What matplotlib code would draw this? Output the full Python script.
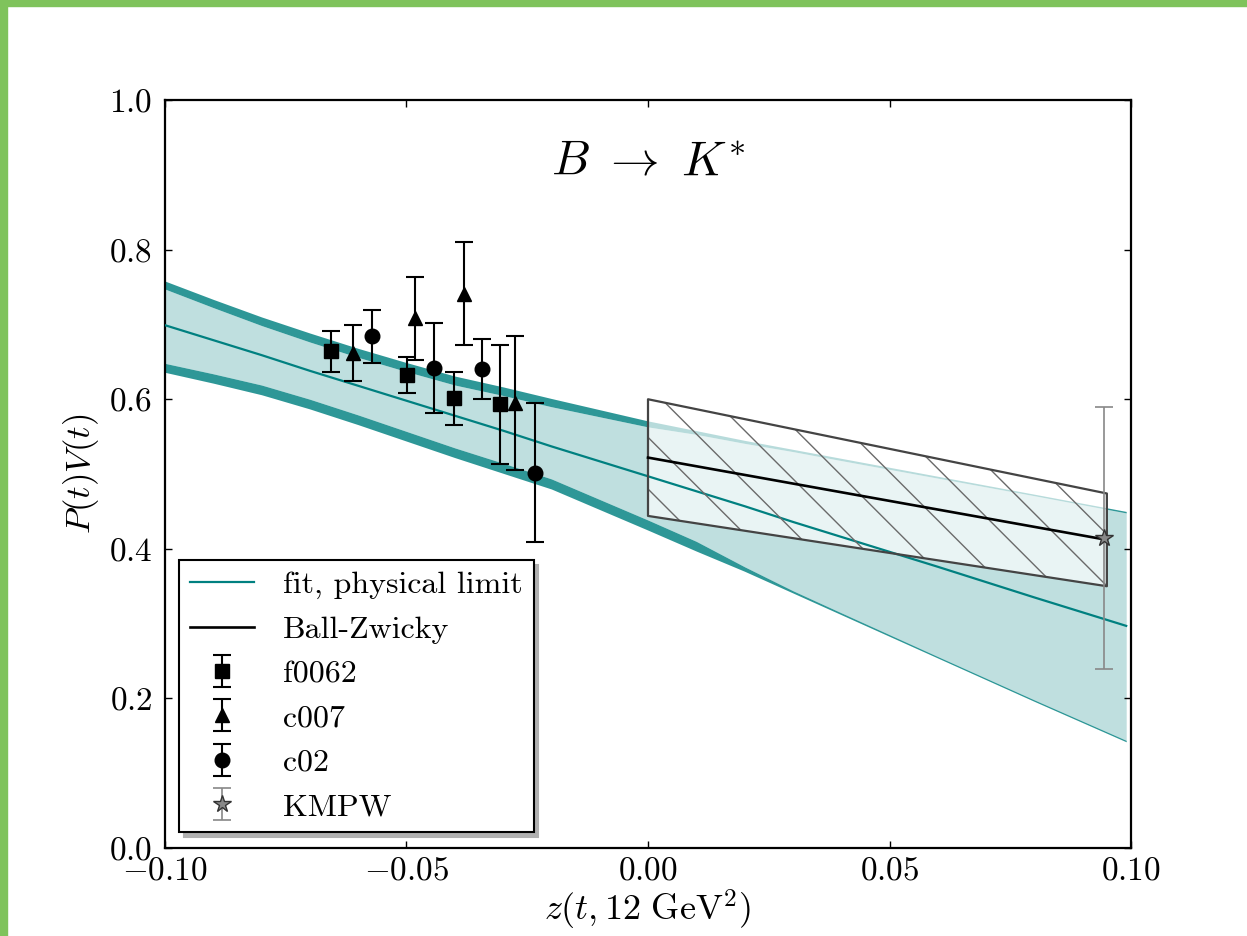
import numpy as np
import matplotlib
matplotlib.use("Agg")
import matplotlib.pyplot as plt
from matplotlib.patches import Rectangle

plt.rcParams["font.family"] = "serif"
plt.rcParams["font.serif"] = ["cmr10"]
plt.rcParams["mathtext.fontset"] = "cm"
plt.rcParams["axes.formatter.use_mathtext"] = True

# z-expansion fit band (physical limit)
z_fit = [-0.10, -0.09, -0.08, -0.07, -0.06, -0.05, -0.04, -0.03, -0.02, -0.01,
         0.00, 0.01, 0.02, 0.03, 0.04, 0.06, 0.08, 0.099]
fit_central = [0.699, 0.679, 0.659, 0.638, 0.618, 0.598, 0.578, 0.558, 0.537, 0.517,
               0.497, 0.477, 0.457, 0.436, 0.416, 0.376, 0.335, 0.297]
fit_up_outer = [0.758, 0.7335, 0.710, 0.6885, 0.668, 0.649, 0.631, 0.6165, 0.601, 0.586,
                0.571, 0.558, 0.545, 0.533, 0.521, 0.497, 0.473, 0.450]
fit_up_inner = [0.7473, 0.7225, 0.6985, 0.6765, 0.656, 0.637, 0.619, 0.605, 0.590, 0.5765,
                0.563, 0.553, 0.541, 0.530, 0.518, 0.4945, 0.471, 0.448]
fit_lo_inner = [0.648, 0.634, 0.619, 0.600, 0.579, 0.557, 0.535, 0.5145, 0.4935, 0.466,
                0.4385, 0.410, 0.376, 0.344, 0.3145, 0.256, 0.198, 0.144]
fit_lo_outer = [0.636, 0.6215, 0.606, 0.587, 0.566, 0.544, 0.522, 0.501, 0.480, 0.4525,
                0.425, 0.397, 0.370, 0.341, 0.312, 0.254, 0.196, 0.142]

# lattice data
f0062_z = [-0.0656, -0.0498, -0.0402, -0.0306]
f0062_v = [0.664, 0.632, 0.601, 0.593]
f0062_err = [0.027, 0.024, 0.035, 0.079]

c007_z = [-0.0611, -0.0482, -0.0381, -0.0276]
c007_v = [0.662, 0.708, 0.741, 0.595]
c007_err = [0.037, 0.056, 0.069, 0.090]

c02_z = [-0.0571, -0.0444, -0.0344, -0.0234]
c02_v = [0.684, 0.642, 0.640, 0.502]
c02_err = [0.035, 0.060, 0.040, 0.093]

# light-cone sum rules
kmpw_z = [0.0944]
kmpw_v = [0.415]
kmpw_err = [0.175]

bz_z = [0.0, 0.02375, 0.0475, 0.07125, 0.095]
bz_central = [0.522, 0.4945, 0.467, 0.4395, 0.412]
bz_upper = [0.600, 0.5685, 0.537, 0.5055, 0.474]
bz_lower = [0.444, 0.4205, 0.397, 0.3735, 0.350]

teal = "#008080"

fig = plt.figure(figsize=(12.47, 9.36), dpi=100)
ax = fig.add_axes([0.1323, 0.094, 0.7747, 0.7991])
ax.set_xlim(-0.1, 0.1)
ax.set_ylim(0.0, 1.0)

# fit band with darker edges
ax.fill_between(z_fit, fit_lo_inner, fit_up_inner, color="#bfdfdf", lw=0, zorder=1)
ax.fill_between(z_fit, fit_up_inner, fit_up_outer, color="#2e9797", lw=0, zorder=1)
ax.fill_between(z_fit, fit_lo_outer, fit_lo_inner, color="#2e9797", lw=0, zorder=1)

# Ball-Zwicky error box
box = ax.fill_between(bz_z, bz_lower, bz_upper, facecolor=(1, 1, 1, 0.66),
                      edgecolor="none", zorder=2)
ax.fill_between(bz_z, bz_lower, bz_upper, facecolor="none",
                edgecolor="#444444", lw=1.6, zorder=5)

ax.plot(z_fit, fit_central, color=teal, lw=1.6, zorder=3, label="fit, physical limit")

# diagonal hatching inside the box, 45 degrees on screen
p0 = ax.transData.transform((0, 0))
p1 = ax.transData.transform((1, 1))
sx, sy = p1[0] - p0[0], p1[1] - p0[1]
slope = -sx / sy
step = 51.7 / sy
c0 = 0.5955 - slope * 0.00352
zz = np.array([-0.02, 0.12])
clip = box.get_paths()[0]
for i in range(-4, 14):
    ln, = ax.plot(zz, c0 + i * step + slope * zz, color="#6a6a6a", lw=1.0, zorder=4)
    ln.set_clip_path(clip, ax.transData)

ax.plot(bz_z, bz_central, color="black", lw=1.9, zorder=6, label="Ball-Zwicky")

eb = dict(elinewidth=1.5, capsize=6.5, capthick=1.5, zorder=7)
ax.errorbar(f0062_z, f0062_v, yerr=f0062_err, fmt="s", color="black", ms=10, label="f0062", **eb)
ax.errorbar(c007_z, c007_v, yerr=c007_err, fmt="^", color="black", ms=10, label="c007", **eb)
ax.errorbar(c02_z, c02_v, yerr=c02_err, fmt="o", color="black", ms=10.5, label="c02", **eb)
ax.errorbar(kmpw_z, kmpw_v, yerr=kmpw_err, fmt="*", color="#888888", mfc="#888888",
            mec="#333333", ms=13, elinewidth=1.2, capsize=6.5, capthick=1.2,
            zorder=8, label="KMPW")

ax.text(-0.02, 0.9, r"$B\ \rightarrow\ K^{*}$", fontsize=35, ha="left", va="baseline")

ax.set_xticks([-0.10, -0.05, 0.00, 0.05, 0.10])
ax.set_yticks([0.0, 0.2, 0.4, 0.6, 0.8, 1.0])
ax.xaxis.set_major_formatter(matplotlib.ticker.FormatStrFormatter("$%.2f$"))
ax.yaxis.set_major_formatter(matplotlib.ticker.FormatStrFormatter("$%.1f$"))
ax.tick_params(direction="in", length=5, width=1, labelsize=24, top=True, right=True)
ax.tick_params(axis="y", pad=9)
ax.tick_params(axis="x", pad=6)
for s in ax.spines.values():
    s.set_linewidth(1.6)

ax.set_xlabel(r"$z(t,12\ \mathrm{GeV}^2)$", fontsize=26, labelpad=2)
ax.set_ylabel(r"$P(t)V(t)$", fontsize=25, labelpad=6)

leg = ax.legend(loc="lower left", bbox_to_anchor=(0.0145, 0.021), borderaxespad=0,
                fontsize=23, fancybox=False, framealpha=1, edgecolor="black",
                handlelength=2.0, handletextpad=0.9, borderpad=0.35, labelspacing=0.5,
                shadow={"ox": 3.5, "oy": -3.5, "facecolor": "#b0b0b0",
                        "edgecolor": "#b0b0b0", "alpha": 1})
leg.get_frame().set_linewidth(1.5)

# green page edge
fig.patches.append(Rectangle((0, 0), 7 / 1247, 1, transform=fig.transFigure,
                             color="#7fc35c", zorder=10))
fig.patches.append(Rectangle((0, 1 - 6 / 936), 1, 6 / 936, transform=fig.transFigure,
                             color="#7fc35c", zorder=10))

fig.savefig("out.png", dpi=100)
plt.close(fig)
